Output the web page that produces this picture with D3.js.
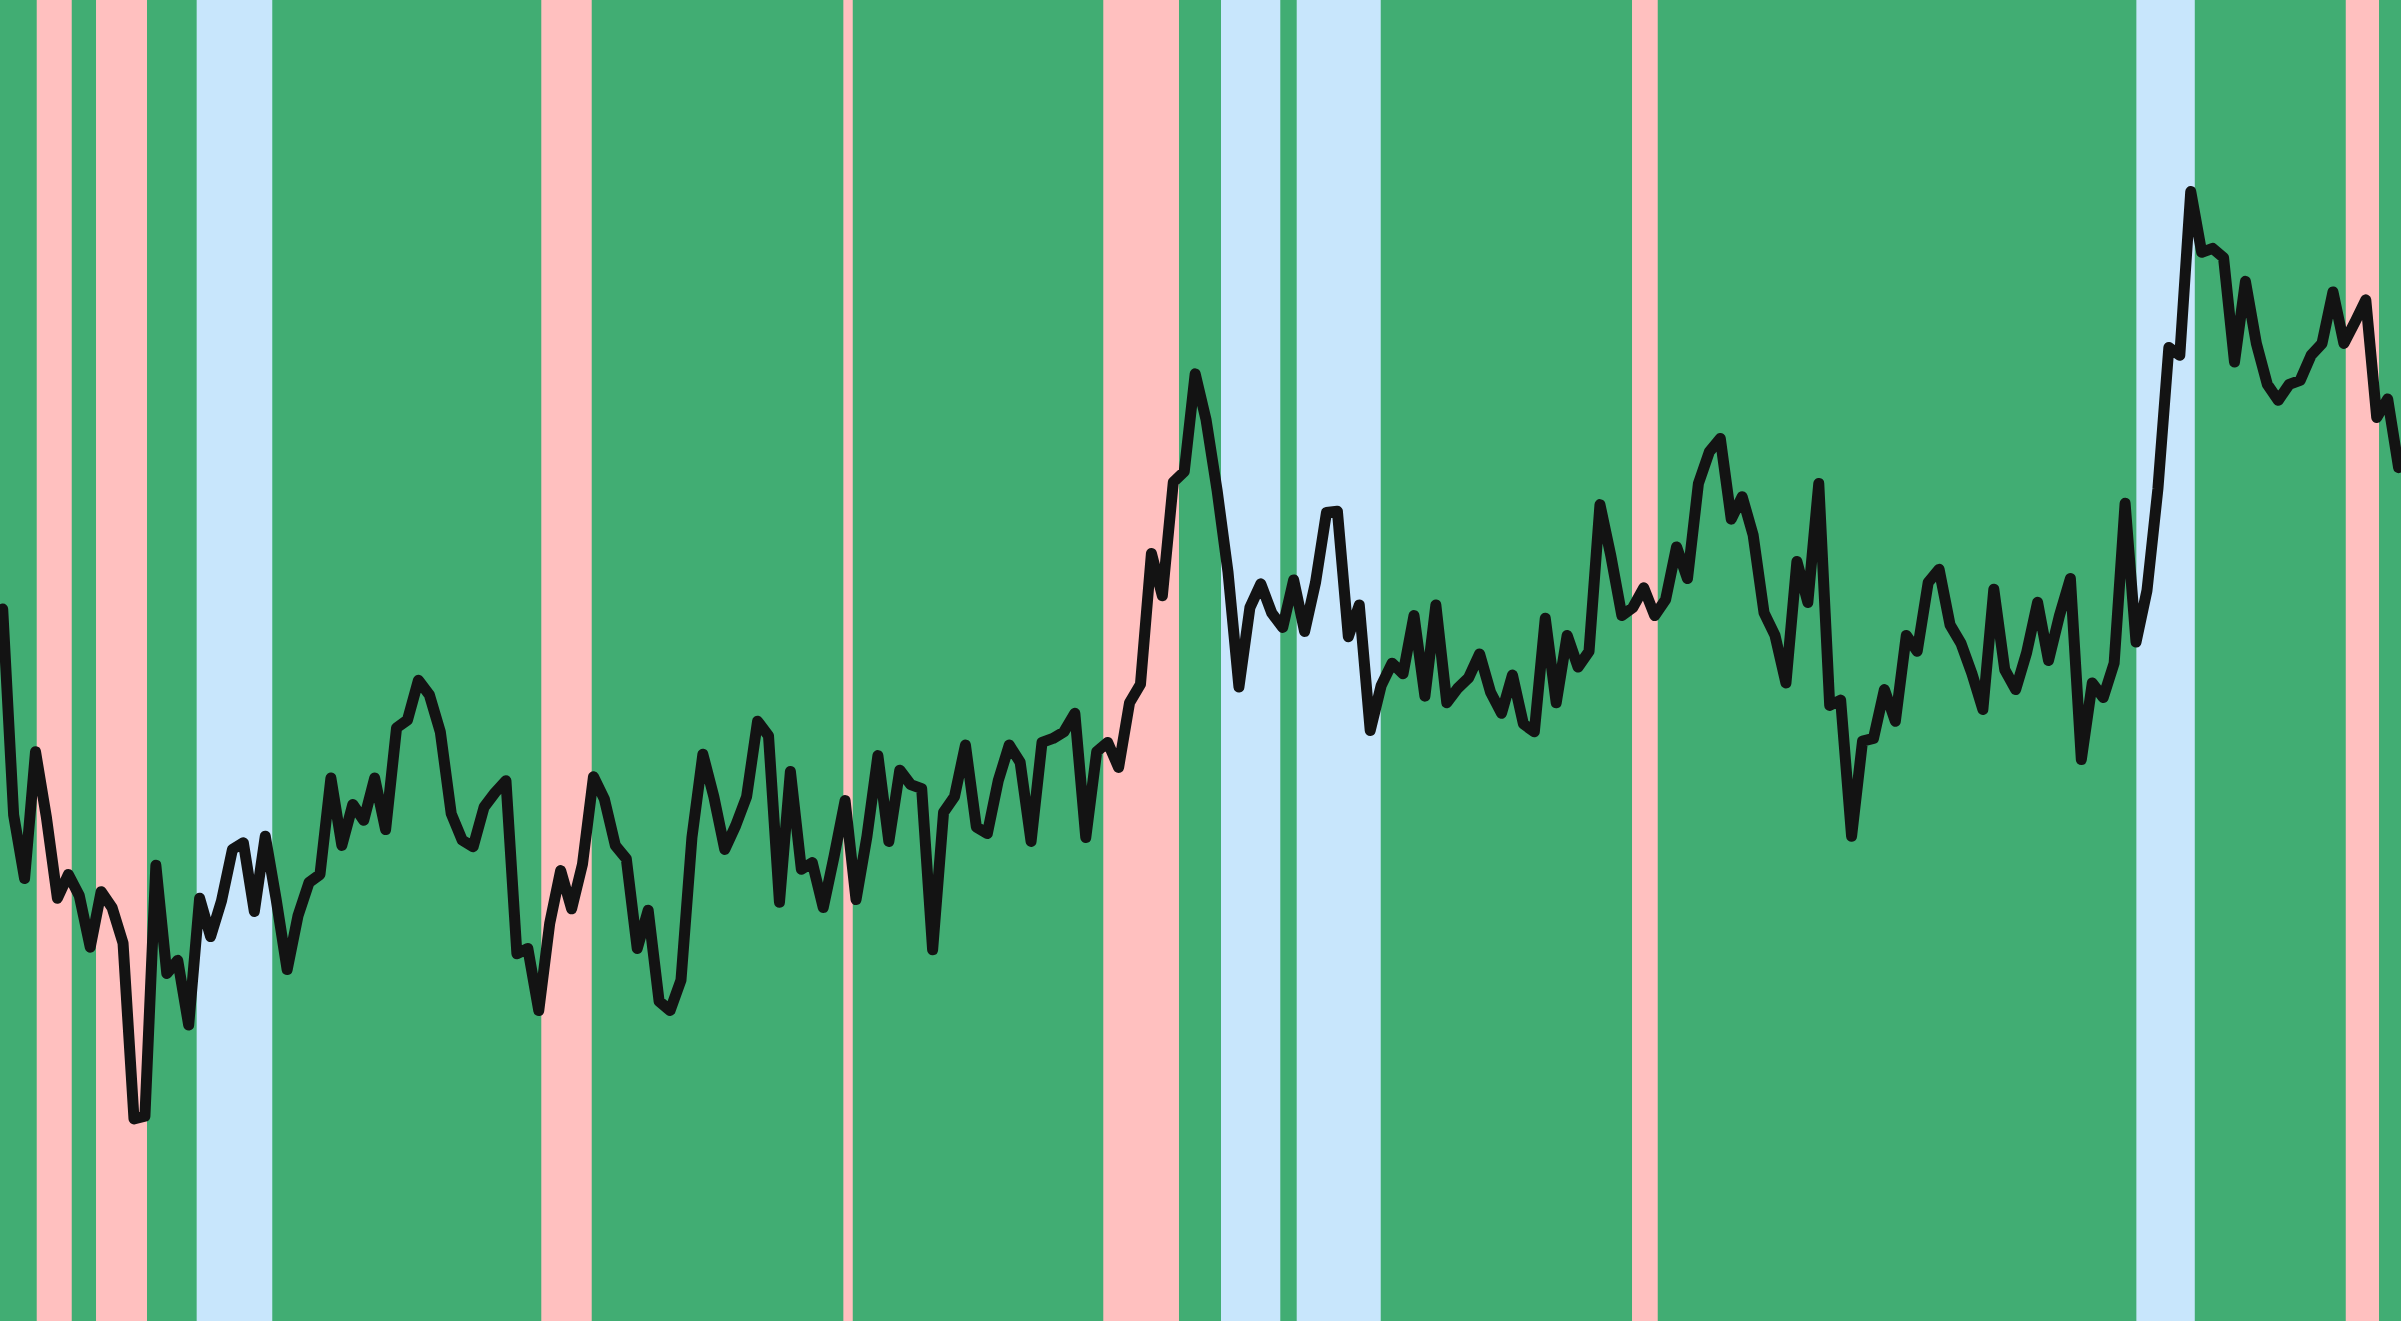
<!DOCTYPE html>
<html>
<head>
<meta charset="utf-8">
<script src="https://cdn.jsdelivr.net/npm/d3@7/dist/d3.min.js"></script>
<style>
  html, body { margin: 0; padding: 0; background: #41ad73; overflow: hidden; }
  svg { display: block; }
</style>
</head>
<body>
<script>
// Series values (one per period, index 0..219)
const values = [
  53.9, 38.3, 33.5, 43.1, 38.1, 32.0, 33.8, 32.2, 28.3, 32.5,
  31.3, 28.6, 15.3, 15.5, 34.5, 26.3, 27.3, 22.4, 32.0, 29.1,
  31.8, 35.7, 36.2, 31.0, 36.7, 31.9, 26.6, 30.7, 33.2, 33.8,
  41.1, 36.0, 39.1, 37.9, 41.1, 37.2, 44.9, 45.5, 48.5, 47.4,
  44.6, 38.4, 36.4, 35.9, 38.9, 40.0, 40.9, 27.8, 28.2, 23.5,
  30.1, 34.1, 31.2, 34.6, 41.2, 39.5, 36.0, 35.0, 28.2, 31.1,
  24.2, 23.5, 25.8, 36.6, 42.9, 39.7, 35.7, 37.5, 39.7, 45.4,
  44.3, 31.7, 41.6, 34.2, 34.7, 31.3, 35.2, 39.4, 31.9, 36.7,
  42.8, 36.3, 41.7, 40.6, 40.3, 28.1, 38.5, 39.7, 43.6, 37.4,
  36.9, 40.9, 43.6, 42.3, 36.3, 43.8, 44.1, 44.6, 46.0, 36.6,
  43.1, 43.8, 41.9, 46.8, 48.2, 58.1, 54.9, 63.5, 64.3, 71.7,
  68.2, 62.9, 56.7, 48.0, 54.0, 55.8, 53.6, 52.5, 56.1, 52.2,
  55.9, 61.2, 61.3, 51.8, 54.2, 44.7, 48.1, 49.8, 49.0, 53.4,
  47.3, 54.2, 46.8, 47.9, 48.7, 50.5, 47.6, 46.0, 48.9, 45.2,
  44.6, 53.2, 46.8, 51.9, 49.5, 50.7, 61.8, 57.9, 53.4, 54.0,
  55.5, 53.4, 54.6, 58.6, 56.2, 63.4, 65.8, 66.8, 60.7, 62.4,
  59.5, 53.6, 51.9, 48.3, 57.5, 54.4, 63.4, 46.6, 47.0, 36.7,
  43.9, 44.1, 47.8, 45.4, 51.9, 50.7, 55.9, 56.9, 52.7, 51.3,
  49.0, 46.3, 55.4, 49.3, 47.8, 50.6, 54.4, 50.0, 53.4, 56.2,
  42.5, 48.3, 47.2, 49.8, 61.9, 51.4, 55.3, 63.0, 73.7, 73.1,
  85.5, 80.9, 81.2, 80.5, 72.6, 78.7, 74.0, 70.9, 69.7, 70.9,
  71.2, 73.1, 74.0, 77.9, 74.0, 75.6, 77.3, 68.4, 69.8, 64.6
];

// Shaded periods, in index units [start, end]
const pinkPeriods = [
  [3.11, 6.31], [8.53, 13.19], [49.23, 53.84], [76.84, 77.70],
  [100.60, 107.52], [148.93, 151.28], [214.17, 217.21]
];
const bluePeriods = [
  [17.73, 24.64], [111.36, 116.78], [118.28, 125.96], [195.03, 200.37]
];

const W = 2401, H = 1321;
const colors = { base: "#41ad73", pink: "#ffc0bf", blue: "#c8e6fc", line: "#131313" };

const svg = d3.select("body").append("svg")
  .attr("width", W).attr("height", H).attr("viewBox", `0 0 ${W} ${H}`);

const x = d3.scaleLinear().domain([0, values.length - 1]).range([2.7, 2398.6]);
const y = d3.scaleLinear().domain([0, 100]).range([H, 0]);

svg.append("rect").attr("x", 0).attr("y", 0).attr("width", W).attr("height", H)
  .attr("fill", colors.base);

const bands = [
  ...pinkPeriods.map(d => ({ s: d[0], e: d[1], c: colors.pink })),
  ...bluePeriods.map(d => ({ s: d[0], e: d[1], c: colors.blue }))
];

svg.append("g").selectAll("rect").data(bands).join("rect")
  .attr("x", d => x(d.s))
  .attr("width", d => x(d.e) - x(d.s))
  .attr("y", 0).attr("height", H)
  .attr("fill", d => d.c);

const line = d3.line().x((d, i) => x(i)).y(d => y(d));

svg.append("path")
  .datum(values)
  .attr("d", line)
  .attr("fill", "none")
  .attr("stroke", colors.line)
  .attr("stroke-width", 11)
  .attr("stroke-linejoin", "round")
  .attr("stroke-linecap", "round");
</script>
</body>
</html>
